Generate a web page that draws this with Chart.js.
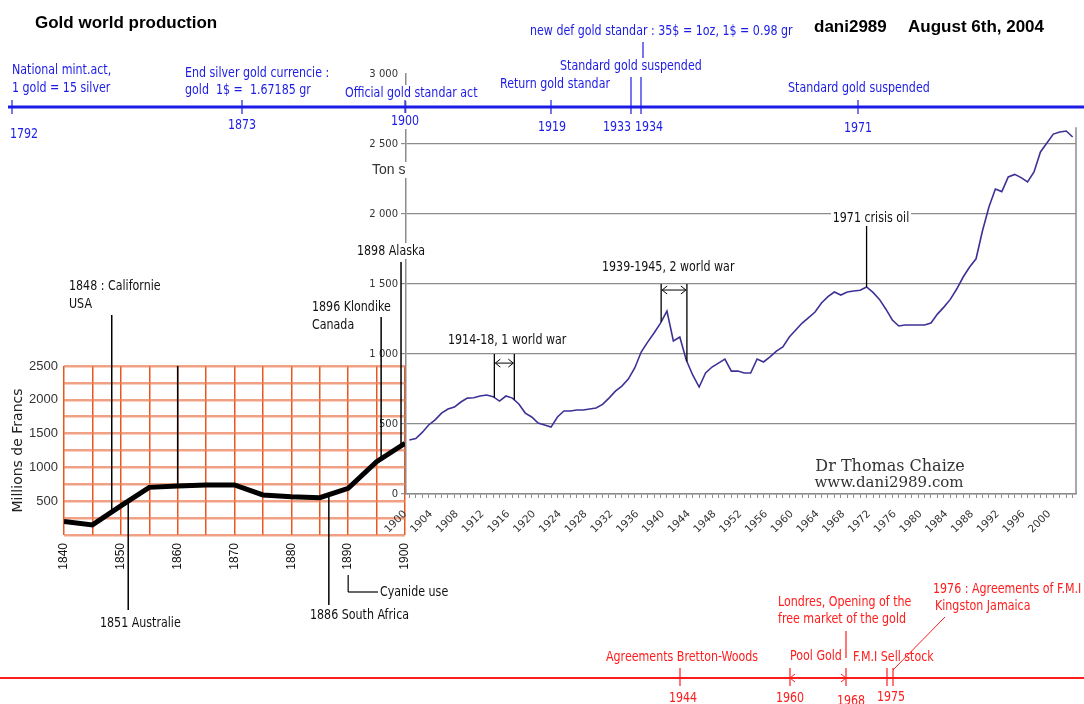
<!DOCTYPE html>
<html>
<head>
<meta charset="utf-8">
<title>Gold world production</title>
<script src="https://cdn.jsdelivr.net/npm/chart.js@4.4.1/dist/chart.umd.min.js"></script>
<style>
  html, body { margin: 0; padding: 0; background: #fff; }
  #wrap { position: relative; width: 1084px; height: 704px; overflow: hidden; }
  #wrap canvas { position: absolute; left: 0; top: 0; }
</style>
</head>
<body>
<div id="wrap">
  <canvas id="oldChart" width="1084" height="704"></canvas>
  <canvas id="prodChart" width="1084" height="704"></canvas>
</div>
<script>
// ---- 19th century, millions de francs (every 5 years) ----
const oldYears = [1840, 1845, 1850, 1855, 1860, 1865, 1870, 1875, 1880, 1885, 1890, 1895, 1900];
const oldFrancs = [200, 150, 430, 705, 725, 740, 740, 592, 567, 552, 690, 1084, 1356];

// ---- 20th century, tons per year from 1900 to 2003 ----
const firstProdYear = 1900;
const prodTons = [
  386, 396, 440, 493, 530, 578, 607, 621, 657, 685,
  688, 700, 707, 695, 664, 700, 685, 643, 578, 550,
  507, 493, 478, 550, 593, 593, 600, 600, 607, 614,
  640, 685, 735, 771, 821, 900, 1014, 1085, 1150, 1221,
  1307, 1093, 1121, 957, 850, 764, 864, 907, 935, 964,
  878, 878, 864, 864, 964, 943, 979, 1021, 1050, 1121,
  1171, 1221, 1260, 1300, 1364, 1410, 1443, 1421, 1443, 1450,
  1455, 1479, 1440, 1390, 1320, 1243, 1200, 1207, 1207, 1207,
  1207, 1221, 1285, 1335, 1390, 1464, 1550, 1621, 1680, 1880,
  2050, 2179, 2160, 2265, 2283, 2260, 2229, 2300, 2443, 2507,
  2571, 2586, 2593, 2550
];
const prodYears = prodTons.map((_, i) => firstProdYear + i);

// ---- timelines ----
const blueYears = ['1792', '1873', '1900', '1919', '1933', '1934', '1971'];
const blueNotes = [
  ['National mint.act,', '1 gold = 15 silver'],
  ['End silver gold currencie :', 'gold  1$ =  1.67185 gr'],
  ['Official gold standar act'],
  ['Return gold standar'],
  ['Standard gold suspended'],
  ['new def gold standar : 35$ = 1oz, 1$ = 0.98 gr'],
  ['Standard gold suspended']
];
const redYears = ['1944', '1960', '1968', '1975'];
const redNotes = [
  ['Agreements Bretton-Woods'],
  ['Pool Gold'],
  ['Londres, Opening of the', 'free market of the gold'],
  ['F.M.I Sell stock'],
  ['1976 : Agreements of F.M.I', 'Kingston Jamaica']
];

const NARROW = '"Liberation Sans Narrow", "Arial Narrow", "DejaVu Sans Condensed", sans-serif';
const SQUEEZE = 0.88; // the original lettering is a condensed face
const BLUE = '#1c1ce6';
const RED = '#ff1c1c';

function interp(xs, ys, x) {
  for (let i = 0; i < xs.length - 1; i++) {
    if (x >= xs[i] && x <= xs[i + 1]) {
      const t = (x - xs[i]) / (xs[i + 1] - xs[i]);
      return ys[i] + t * (ys[i + 1] - ys[i]);
    }
  }
  return ys[ys.length - 1];
}

function label(ctx, text, x, y, color, font, align, bg, sx) {
  sx = sx || 1;
  ctx.save();
  ctx.font = font;
  ctx.textAlign = align || 'left';
  ctx.textBaseline = 'middle';
  ctx.translate(x, y);
  ctx.scale(sx, 1);
  if (bg) {
    const w = ctx.measureText(text).width;
    const left = align === 'center' ? -w / 2 : align === 'right' ? -w : 0;
    ctx.fillStyle = '#fff';
    ctx.fillRect(left - 2, -8, w + 4, 16);
  }
  ctx.fillStyle = color;
  ctx.fillText(text, 0, 0);
  ctx.restore();
}

function note(ctx, text, x, y, color, align, bg) {
  label(ctx, text, x, y, color, '14px ' + NARROW, align, bg, SQUEEZE);
}

function seg(ctx, x1, y1, x2, y2, color, width) {
  ctx.save();
  ctx.strokeStyle = color;
  ctx.lineWidth = width || 1;
  ctx.beginPath();
  ctx.moveTo(x1, y1);
  ctx.lineTo(x2, y2);
  ctx.stroke();
  ctx.restore();
}

function chevron(ctx, x, y, dir, color) {
  // apex at (x, y), opening towards dir (+1 right, -1 left)
  ctx.save();
  ctx.strokeStyle = color;
  ctx.lineWidth = 1;
  ctx.beginPath();
  ctx.moveTo(x + dir * 5, y - 4);
  ctx.lineTo(x, y);
  ctx.lineTo(x + dir * 5, y + 4);
  ctx.stroke();
  ctx.restore();
}

// ---- left chart: 1840-1900 ----
const oldChart = new Chart(document.getElementById('oldChart'), {
  type: 'line',
  data: {
    datasets: [{
      data: oldYears.map((y, i) => ({ x: y, y: oldFrancs[i] })),
      borderColor: '#000',
      borderWidth: 5,
      pointRadius: 0,
      tension: 0
    }]
  },
  options: {
    responsive: false,
    animation: false,
    events: [],
    layout: { padding: { left: 10, top: 366, right: 679, bottom: 109 } },
    plugins: { legend: { display: false }, tooltip: { enabled: false } },
    scales: {
      x: {
        type: 'linear',
        min: 1840,
        max: 1900,
        afterFit: (s) => { s.height = 60; },
        ticks: {
          stepSize: 5,
          autoSkip: false,
          minRotation: 90,
          maxRotation: 90,
          padding: 8,
          color: '#111',
          font: { size: 12, family: '"Liberation Sans", Arial, sans-serif' },
          callback: (v) => (v % 10 === 0 ? String(v) : '')
        },
        grid: { color: '#e9561f', lineWidth: 1.5, drawTicks: false },
        border: { display: false }
      },
      y: {
        min: 0,
        max: 2500,
        afterFit: (s) => { s.width = 54; },
        ticks: {
          stepSize: 250,
          autoSkip: false,
          padding: 6,
          color: '#333',
          font: { size: 13, family: '"Liberation Sans", Arial, sans-serif' },
          callback: (v) => (v > 0 && v % 500 === 0 ? String(v) : '')
        },
        grid: { color: 'rgba(236,130,90,0.75)', lineWidth: 2.5, drawTicks: false },
        border: { display: false },
        title: {
          display: true,
          text: 'Millions de Francs',
          color: '#222',
          padding: 0,
          font: { size: 14, family: '"DejaVu Sans", Verdana, sans-serif' }
        }
      }
    }
  }
});

// ---- page decorations drawn over the main chart ----
const pagePlugin = {
  id: 'page',
  afterDraw(chart) {
    const ctx = chart.ctx;
    const xs = chart.scales.x;
    const ys = chart.scales.y;
    const ox = oldChart.scales.x;
    const oy = oldChart.scales.y;
    const area = chart.chartArea;
    const onProd = (yr) => ys.getPixelForValue(interp(prodYears, prodTons, yr));
    const onOld = (yr) => oy.getPixelForValue(interp(oldYears, oldFrancs, yr));
    const bold = 'bold 17px "Liberation Sans", Arial, sans-serif';

    // right border of the tonnage plot
    seg(ctx, area.right, ys.getPixelForValue(2620), area.right, area.bottom, '#8c8c8c', 1.5);

    // titles
    label(ctx, 'Gold world production', 35, 23, '#000', bold);
    label(ctx, 'dani2989', 814, 27, '#000', bold);
    label(ctx, 'August 6th, 2004', 908, 27, '#000', bold);

    // ---- blue timeline ----
    const topY = 107;
    const blueTickX = [12, 242, 405, 551, 631, 641, 858];
    const blueYearPos = [[24, 134], [242, 125], [405, 121], [552, 127], [617, 127], [649, 127], [858, 128]];
    note(ctx, blueNotes[0][0], 12, 70, BLUE);
    note(ctx, blueNotes[0][1], 12, 88, BLUE);
    note(ctx, blueNotes[1][0], 185, 73, BLUE);
    note(ctx, blueNotes[1][1], 185, 90, BLUE);
    note(ctx, blueNotes[2][0], 345, 93, BLUE, 'left', true);
    note(ctx, blueNotes[3][0], 500, 84, BLUE);
    note(ctx, blueNotes[4][0], 560, 66, BLUE);
    note(ctx, blueNotes[5][0], 530, 31, BLUE);
    seg(ctx, 643, 42, 643, 58, BLUE, 1.2);
    note(ctx, blueNotes[6][0], 788, 88, BLUE);
    seg(ctx, 8, topY, 1084, topY, BLUE, 3);
    blueTickX.forEach((x, i) => {
      const top = (i === 4 || i === 5) ? 77 : 100;
      seg(ctx, x, top, x, 114, BLUE, 1.2);
      note(ctx, blueYears[i], blueYearPos[i][0], blueYearPos[i][1], BLUE, 'center', i === 2);
    });

    // ---- red timeline ----
    const botY = 678;
    note(ctx, redNotes[0][0], 606, 657, RED);
    note(ctx, redNotes[1][0], 790, 656, RED);
    note(ctx, redNotes[2][0], 778, 602, RED);
    note(ctx, redNotes[2][1], 778, 619, RED);
    seg(ctx, 846, 631, 846, 658, RED, 1.2);
    note(ctx, redNotes[3][0], 853, 657, RED);
    note(ctx, redNotes[4][0], 933, 589, RED);
    note(ctx, redNotes[4][1], 935, 606, RED);
    seg(ctx, 945, 617, 893, 670, RED, 1);
    seg(ctx, 0, botY, 1084, botY, RED, 2);
    [680, 790, 846, 887, 893].forEach((x) => seg(ctx, x, 668, x, 686, RED, 1.2));
    chevron(ctx, 790, botY, 1, RED);
    chevron(ctx, 846, botY, -1, RED);
    const redYearPos = [[683, 698], [790, 698], [851, 701], [891, 697]];
    redYears.forEach((t, i) => note(ctx, t, redYearPos[i][0], redYearPos[i][1], RED, 'center'));

    // ---- annotations on the 1840-1900 chart ----
    seg(ctx, ox.getPixelForValue(1848.4), 315, ox.getPixelForValue(1848.4), onOld(1848.4), '#000', 1.5);
    note(ctx, '1848 : Californie', 69, 286, '#111');
    note(ctx, 'USA', 69, 304, '#111');
    seg(ctx, ox.getPixelForValue(1860), oy.getPixelForValue(2500), ox.getPixelForValue(1860), onOld(1860), '#000', 1.5);
    seg(ctx, ox.getPixelForValue(1851.3), onOld(1851.3), ox.getPixelForValue(1851.3), 610, '#000', 1.5);
    note(ctx, '1851 Australie', 100, 623, '#111');
    seg(ctx, ox.getPixelForValue(1886.6), onOld(1886.6), ox.getPixelForValue(1886.6), 605, '#000', 1.5);
    note(ctx, '1886 South Africa', 310, 615, '#111');
    const cx = ox.getPixelForValue(1890);
    seg(ctx, cx, 575, cx, 592, '#000', 1.2);
    seg(ctx, cx, 592, 378, 592, '#000', 1.2);
    note(ctx, 'Cyanide use', 380, 592, '#111');
    seg(ctx, ox.getPixelForValue(1895.8), 317, ox.getPixelForValue(1895.8), onOld(1895.8), '#000', 1.5);
    note(ctx, '1896 Klondike', 312, 307, '#111');
    note(ctx, 'Canada', 312, 325, '#111');
    seg(ctx, ox.getPixelForValue(1899.3), 262, ox.getPixelForValue(1899.3), onOld(1899.3), '#000', 1.5);
    note(ctx, '1898 Alaska', 357, 251, '#111', 'left', true);

    // ---- annotations on the tonnage chart ----
    label(ctx, 'Ton s', 372, 170, '#333', '14px "Liberation Sans", Arial, sans-serif', 'left', true);
    const wars = [
      { a: 1913.2, b: 1916.3, top: 1000, arrow: 935, text: '1914-18, 1 world war', tx: 448, ty: 340 },
      { a: 1939.1, b: 1943.1, top: 1500, arrow: 1457, text: '1939-1945, 2 world war', tx: 602, ty: 267 }
    ];
    wars.forEach((w) => {
      const xa = xs.getPixelForValue(w.a);
      const xb = xs.getPixelForValue(w.b);
      const yt = ys.getPixelForValue(w.top);
      seg(ctx, xa, yt, xa, onProd(w.a), '#000', 1.3);
      seg(ctx, xb, yt, xb, onProd(w.b), '#000', 1.3);
      const ya = ys.getPixelForValue(w.arrow);
      seg(ctx, xa + 1, ya, xb - 1, ya, '#000', 1);
      chevron(ctx, xa + 1, ya, 1, '#000');
      chevron(ctx, xb - 1, ya, -1, '#000');
      note(ctx, w.text, w.tx, w.ty, '#111');
    });
    const xc = xs.getPixelForValue(1971);
    seg(ctx, xc, ys.getPixelForValue(1940), xc, onProd(1971), '#000', 1.3);
    note(ctx, '1971 crisis oil', 871, 218, '#111', 'center', true);

    label(ctx, 'Dr Thomas Chaize', 890, 467, '#333', '16px "DejaVu Serif", "Liberation Serif", serif', 'center');
    label(ctx, 'www.dani2989.com', 889, 483, '#333', '15px "DejaVu Serif", "Liberation Serif", serif', 'center');
  }
};

// ---- main chart: 1900-2003, tons ----
const prodChart = new Chart(document.getElementById('prodChart'), {
  type: 'line',
  data: {
    datasets: [{
      data: prodYears.map((y, i) => ({ x: y, y: prodTons[i] })),
      borderColor: '#3c3296',
      borderWidth: 1.6,
      pointRadius: 0,
      tension: 0
    }]
  },
  options: {
    responsive: false,
    animation: false,
    events: [],
    layout: { padding: { left: 350, top: 74, right: 8, bottom: 160 } },
    plugins: { legend: { display: false }, tooltip: { enabled: false } },
    scales: {
      x: {
        type: 'linear',
        min: 1899.48,
        max: 2003.52,
        afterFit: (s) => { s.height = 50; s.paddingLeft = 0; s.paddingRight = 0; },
        ticks: {
          stepSize: 1,
          includeBounds: false,
          autoSkip: false,
          minRotation: 45,
          maxRotation: 45,
          padding: 10,
          labelOffset: -4,
          color: '#333',
          font: { size: 10.5, family: '"DejaVu Sans", Verdana, sans-serif' },
          callback: (v) => (Math.abs(v % 4) < 1e-6 && v <= 2000 ? String(Math.round(v)) : '')
        },
        grid: { drawOnChartArea: false, color: '#8c8c8c', tickLength: 4 },
        border: { color: '#8c8c8c', width: 1.5 }
      },
      y: {
        min: 0,
        max: 3000,
        afterFit: (s) => { s.width = 56; },
        ticks: {
          stepSize: 500,
          padding: 3,
          color: '#333',
          font: { size: 10, family: '"DejaVu Sans", Verdana, sans-serif' },
          callback: (v) => String(v).replace(/\B(?=(\d{3})+(?!\d))/g, ' ')
        },
        grid: {
          color: (c) => (c.tick && c.tick.value >= 3000 ? 'rgba(0,0,0,0)' : '#8c8c8c'),
          lineWidth: 1.2,
          tickLength: 5
        },
        border: { color: '#8c8c8c', width: 1.5 }
      }
    }
  },
  plugins: [pagePlugin]
});
</script>
</body>
</html>
